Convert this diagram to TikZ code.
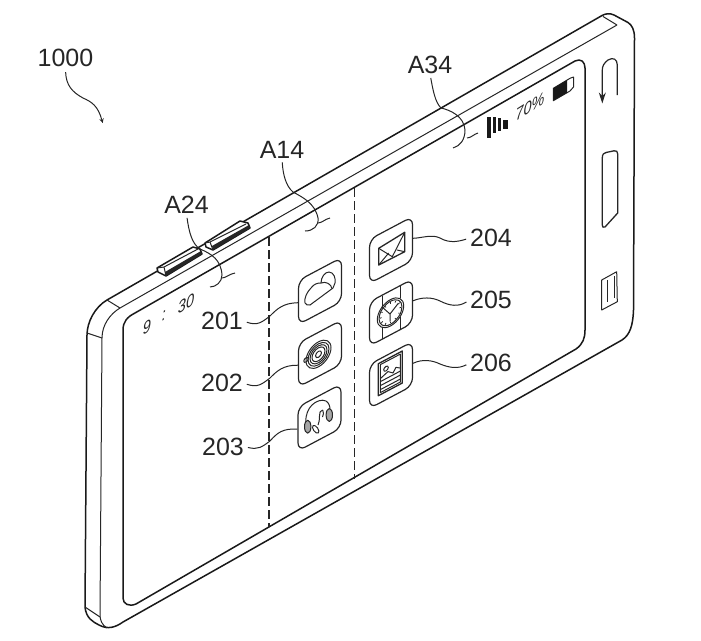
\documentclass[tikz,border=0pt]{standalone}
\usepackage{fontspec}
\setmainfont{Liberation Sans}
\usetikzlibrary{arrows.meta, positioning}
\tikzset{
    edgeline/.style={line width=1.5pt, line join=round, black!90},
    thinline/.style={line width=1pt, black!85},
    leader/.style={line width=1pt, black!85, shorten <=4pt},
    partline/.style={line width=1.2pt, black!85, dash pattern=on 9pt off 4pt},
    reflabel/.style={font=\fontsize{25}{25}\selectfont, inner sep=0pt, black!85},
    iconbox/.style={draw, line width=1.2pt, black!85, rounded corners=8pt, minimum width=43pt, minimum height=44pt, inner sep=0pt, yslant=0.53},
    iconskew/.style={shift={(#1)}, yslant=0.53},
    glyph/.style={line width=1pt, black!85, line join=round},
    statustext/.style={font=\fontsize{17}{17}\selectfont\itshape, inner sep=0pt, xscale=0.85, yslant=0.53, black!85},
}
\begin{document}
\begin{tikzpicture}[>=stealth, x=1pt, y=-1pt]
    \useasboundingbox (0,0) rectangle (701,640);

    % body outline
    \draw[edgeline] (107,300) -- (601.7,15.7) .. controls (605,13.5) and (610,13) .. (614,15) -- (628,22.5) .. controls (632,25) and (634.5,30) .. (634.5,38)
        -- (633.5,310) .. controls (633,325) and (630,335) .. (622,340) -- (123,622) .. controls (116,627) and (108,630) .. (99,625)
        .. controls (93,622) and (86,618) .. (85,607) -- (87,335) .. controls (87,322) and (95,307) .. (107,300) -- cycle;
    \draw[thinline] (120,308) -- (617,25) (603,16.5) -- (617,25);
    \draw[thinline] (120,308) .. controls (110,314) and (102,325) .. (102,338) -- (100,615) .. controls (100,620) and (102,625) .. (107,628);
    \draw[thinline] (107,300) -- (120,308) (87,333) -- (102,338) (85,607) -- (100,617);

    % screen
    \draw[edgeline] (135,313) -- (575,61) .. controls (581,58) and (585,62) .. (585,68) -- (585,330) .. controls (585,338) and (583,344) .. (576,349)
        -- (136,604) .. controls (129,607) and (123,604) .. (123,598) -- (123,330) .. controls (123,322) and (127,317) .. (135,313) -- cycle;

    % area borders
    \coordinate (partAtop) at (269,237);
    \coordinate (partAbot) at (269,527);
    \coordinate (partBtop) at (354.5,188);
    \coordinate (partBbot) at (354.5,479);
    \draw[partline] (partAtop) -- (partAbot);
    \draw[partline] (partBtop) -- (partBbot);

    % side buttons
    \draw[edgeline, fill=white] (157,268) -- (193,247) -- (200,249) -- (202,254) -- (166,276) -- (158,272) -- cycle;
    \draw[thinline] (157,268) -- (164,267) -- (198,249) (164,267) -- (166,276);
    \fill[black!85] (166,276) -- (202,254) -- (201,251) -- (165,272) -- cycle;
    \draw[edgeline, fill=white] (205,243) -- (240,221) -- (248,223) -- (250,228) -- (213,250) -- (206,247) -- cycle;
    \draw[thinline] (205,243) -- (210,242) -- (246,224) (210,242) -- (213,250);
    \fill[black!85] (213,250) -- (250,228) -- (249,225) -- (212,246) -- cycle;

    % reference labels
    \node[reflabel] (lab1000) at (65.5,58) {1000};
    \node[reflabel] (labA24) at (186.5,205) {A24};
    \node[reflabel] (labA14) at (282,149.5) {A14};
    \node[reflabel] (labA34) at (430,65) {A34};
    \node[reflabel] (lab201) at (222,321) {201};
    \node[reflabel] (lab202) at (222,383) {202};
    \node[reflabel] (lab203) at (223,446.5) {203};
    \node[reflabel] (lab204) at (491,238) {204};
    \node[reflabel] (lab205) at (491,300) {205};
    \node[reflabel] (lab206) at (491,363) {206};

    % arrow of the whole device
    \coordinate (devtip) at (102.7,123);
    \draw[->, line width=1pt, black!85, shorten <=5pt] (lab1000.south) .. controls (66,85) and (72,92) .. (83,98) .. controls (92,102) and (98,106) .. (devtip);

    % area leaders
    \coordinate (endA24) at (210,287);
    \coordinate (tailA24) at (235,273);
    \coordinate (endA14) at (305,231);
    \coordinate (tailA14) at (330,218);
    \coordinate (endA34) at (453,148);
    \coordinate (tailA34) at (478,133);
    \draw[leader] (labA24.south) .. controls (189,232) and (192,244) .. (200,249) .. controls (212,254) and (221,260) .. (222,275) .. controls (222,282) and (216,287) .. (endA24);
    \draw[thinline] (222,278) .. controls (226,278) and (229,274) .. (tailA24);
    \draw[leader] (labA14.south) .. controls (283,175) and (286,186) .. (293,192) .. controls (302,197) and (315,203) .. (318,218) .. controls (319,226) and (313,231) .. (endA14);
    \draw[thinline] (318,223) .. controls (322,223) and (325,219) .. (tailA14);
    \draw[leader] (labA34.south) .. controls (433,90) and (435,102) .. (441,108) .. controls (450,110) and (464,116) .. (465,130) .. controls (465,140) and (460,146) .. (endA34);
    \draw[thinline] (467,138) .. controls (471,138) and (474,134) .. (tailA34);

    % icons
    \node[iconbox] (ic201) at (320,291) {};
    \node[iconbox] (ic202) at (320,353.5) {};
    \node[iconbox] (ic203) at (319.5,417.5) {};
    \node[iconbox] (ic204) at (391,250) {};
    \node[iconbox] (ic205) at (391,312.5) {};
    \node[iconbox] (ic206) at (391,375) {};

    % icon leaders
    \draw[leader] (lab201.east) .. controls (258,326) and (262,322) .. (270,316) .. controls (277,309) and (283,303) .. (ic201.west);
    \draw[leader] (lab202.east) .. controls (258,388) and (262,384) .. (270,378) .. controls (277,371) and (283,365) .. (ic202.west);
    \draw[leader] (lab203.east) .. controls (258,450) and (262,447) .. (270,441) .. controls (277,433) and (283,428) .. (ic203.west);
    \draw[leader] (lab204.west) .. controls (460,241) and (450,244) .. (440,238) .. controls (432,234) and (422,238) .. (ic204.east);
    \draw[leader] (lab205.west) .. controls (458,307) and (450,306) .. (440,301) .. controls (432,297) and (422,297) .. (ic205.east);
    \draw[leader] (lab206.west) .. controls (458,369) and (450,368) .. (440,364) .. controls (432,360) and (422,359) .. (ic206.east);

    % cloud
    \draw[glyph] (305,303) .. controls (304,298) and (307,292) .. (311,288) .. controls (314,284) and (317,283) .. (321,283)
        .. controls (321,277) and (325,272) .. (329,272) .. controls (334,272) and (336,279) .. (335,283) -- (333,288) -- (310,305) .. controls (308,305.5) and (306,305) .. (305,303) -- cycle;
    \draw[glyph] (321,283) .. controls (326,281) and (331,284) .. (332,288.5);

    % lens
    \begin{scope}[iconskew=ic202]
        \foreach \rr in {12.5,10.5,8.5,6.5}
            \draw[glyph] (-1.5,0) circle (\rr);
        \draw[glyph] (-1.5,0) circle (3);
        \draw[glyph] (-14,-1) circle (2.2);
    \end{scope}

    % headphones
    \draw[glyph] (305.7,421.7) .. controls (306,414) and (308,409) .. (312,405) .. controls (316,401) and (322,399) .. (326,401) .. controls (329,403) and (330,406) .. (330,410);
    \draw[glyph, fill=black!35] (307.7,426.7) ellipse (3.2 and 6.5);
    \draw[glyph, fill=black!35] (329.3,415) ellipse (3.2 and 6.5);
    \draw[glyph] (322.7,410) .. controls (320,410) and (319.5,413) .. (319.5,416) .. controls (319.5,420) and (319,423) .. (318,425);
    \draw[glyph, rotate around={-55:(315.7,429.3)}] (315.7,429.3) ellipse (4.5 and 2.3);
    \draw[glyph] (322.7,410) .. controls (324,412) and (323.5,415) .. (322.5,417);

    % envelope
    \draw[glyph, line width=1.3pt] (378.7,248.3) -- (404.7,232.3) -- (404.7,251.7) -- (378.7,265) -- cycle;
    \draw[glyph] (378.7,248.3) -- (392.3,256.7) -- (404.7,232.3);
    \draw[glyph] (378.7,265) -- (388.7,253) (404.7,251.7) -- (397,250);

    % clock
    \begin{scope}[iconskew=ic205]
        \draw[glyph] (-8.5,-21.5) -- (-8.5,-10) (-8.5,10) -- (-8.5,21.5);
        \draw[glyph] (9,-21.5) -- (9,-9.5) (9,9.5) -- (9,21.5);
        \draw[glyph] (-0.5,0) circle (13.2);
        \draw[glyph] (-0.5,0) circle (11.5);
        \foreach \aa in {0,30,...,330}
            \draw[line width=0.8pt, black!85] (-0.5,0) ++(\aa:9) -- ++(\aa:1.5);
    \end{scope}
    \draw[glyph] (398.3,303.3) -- (390,314) -- (381.7,306.7) (390,314) -- (390,321.7);

    % picture
    \begin{scope}[iconskew=ic206]
        \draw[glyph, line width=1.3pt] (-12.7,-18) rectangle (11.3,14);
        \draw[glyph] (-10.7,-16) rectangle (9.3,12);
        \draw[glyph] (-5,-9) circle (2.3);
        \draw[glyph] (-10.7,-2) -- (-3,-5) -- (2,-1) -- (5,-5) -- (9.3,-2);
        \draw[glyph] (-10.7,1) -- (9.3,1) (-10.7,5) -- (9.3,5) (-10.7,9) -- (9.3,9);
    \end{scope}

    % status bar
    \node[statustext] (clockh) at (147,327) {9};
    \node[statustext] (clockc) at (164,316) {:};
    \node[statustext] (clockm) at (186,304) {30};
    \node[statustext] (batt) at (530,106.7) {70\%};
    \fill[black!90] (486.7,117) rectangle (491,138);
    \fill[black!90] (492.7,117) rectangle (496,133);
    \fill[black!90] (498,118) rectangle (501,131);
    \fill[black!90] (503,120) rectangle (508,129);
    \draw[glyph] (553.3,88.3) -- (570,78.3) -- (573.5,77) -- (573.5,87) -- (570,91) -- (553.3,100.7) -- cycle;
    \fill[black!90] (553.3,88.3) -- (567,80) -- (567,92.7) -- (553.3,100.7) -- cycle;

    % right bezel keys
    \draw[-{Stealth[length=11pt, width=7pt]}, line width=1.2pt, black!85] (617.3,95) -- (617.3,65) .. controls (617.3,59) and (613,57) .. (608,60) .. controls (604,63) and (602.3,66) .. (602.3,70) -- (602.3,103.5);
    \draw[glyph, line width=1.3pt] (602.3,158) .. controls (602.3,154) and (604,153) .. (606,152.5) -- (614,150.8) .. controls (616.5,150.3) and (617.7,151.5) .. (617.7,154) -- (617.7,213) -- (605,227) .. controls (603,228) and (602.3,227) .. (602.3,225) -- cycle;
    \draw[glyph] (601.7,280) -- (616.7,271.7) -- (617.3,301.7) -- (601.7,310) -- cycle;
    \draw[glyph] (607.7,280) -- (607.7,302) (614,276) -- (614,298);
\end{tikzpicture}
\end{document}
